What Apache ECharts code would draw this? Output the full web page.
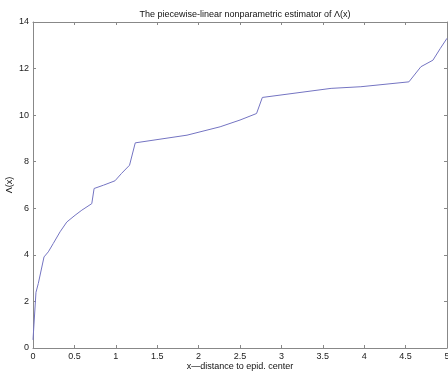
<!DOCTYPE html>
<html>
<head>
<meta charset="utf-8">
<script src="https://cdn.jsdelivr.net/npm/echarts@6/dist/echarts.min.js"></script>
<style>
  html, body { margin: 0; padding: 0; background: #fff; }
  #chart { width: 448px; height: 376px; }
</style>
</head>
<body>
<div id="chart"></div>
<script>
// estimator points
var xs = [0, 0.036, 0.064, 0.133, 0.185, 0.245, 0.327, 0.408, 0.508, 0.59, 0.71, 0.738,
  0.85, 0.99, 1.07, 1.166, 1.235, 1.86, 2.26, 2.5, 2.70, 2.77, 3.6, 3.96, 4.54, 4.685,
  4.83, 4.92, 5.0];
var ys = [0.35, 2.39, 2.77, 3.91, 4.13, 4.49, 4.99, 5.41, 5.70, 5.92, 6.2, 6.85,
  6.99, 7.18, 7.5, 7.85, 8.81, 9.14, 9.5, 9.79, 10.07, 10.76, 11.15, 11.22, 11.43, 12.08,
  12.36, 12.87, 13.3];

var xTicks = [0, 0.5, 1, 1.5, 2, 2.5, 3, 3.5, 4, 4.5, 5];
var yTicks = [0, 2, 4, 6, 8, 10, 12, 14];

var pts = [];
for (var i = 0; i < xs.length; i++) {
  pts.push([xs[i], ys[i]]);
}

var font = 'Liberation Sans, Arial, sans-serif';
var axisCol = '#888';

function boxAxis(extra) {
  var base = {
    type: 'value',
    axisLine: { show: true, onZero: false, lineStyle: { color: axisCol, width: 1 } },
    axisTick: { show: true, inside: true, length: 3, lineStyle: { color: axisCol } },
    splitLine: { show: false },
    axisLabel: { color: '#222', fontSize: 9, fontFamily: font }
  };
  for (var k in extra) base[k] = extra[k];
  return base;
}

var chart = echarts.init(document.getElementById('chart'));
chart.setOption({
  animation: false,
  title: {
    text: 'The piecewise-linear nonparametric estimator of Λ(x)',
    left: 240,
    top: 5,
    textAlign: 'center',
    textStyle: { fontSize: 9, fontWeight: 'normal', color: '#111', fontFamily: font }
  },
  grid: { left: 33, right: 1, top: 22, bottom: 28, outerBoundsMode: 'none', containLabel: false },
  xAxis: [
    boxAxis({
      min: 0, max: 5, interval: 0.5, position: 'bottom',
      name: 'x—distance to epid. center',
      nameLocation: 'middle', nameGap: 14, nameMoveOverlap: false,
      nameTextStyle: { fontSize: 9, color: '#111', fontFamily: font },
      axisLabel: { color: '#222', fontSize: 9, fontFamily: font, margin: 4,
        formatter: function (v) { return String(v); } }
    }),
    boxAxis({
      min: 0, max: 5, interval: 0.5, position: 'top',
      axisLabel: { show: false }
    })
  ],
  yAxis: [
    boxAxis({
      min: 0, max: 14, interval: 2, position: 'left',
      name: 'Λ(x)',
      nameLocation: 'middle', nameGap: 19, nameRotate: 90, nameMoveOverlap: false,
      nameTextStyle: { fontSize: 9, color: '#111', fontFamily: font },
      axisLabel: { color: '#222', fontSize: 9, fontFamily: font, margin: 4 }
    }),
    boxAxis({
      min: 0, max: 14, interval: 2, position: 'right',
      axisLabel: { show: false }
    })
  ],
  series: [
    {
      type: 'line',
      data: pts,
      showSymbol: false,
      lineStyle: { color: '#7474c2', width: 1 }
    }
  ]
});
</script>
</body>
</html>
